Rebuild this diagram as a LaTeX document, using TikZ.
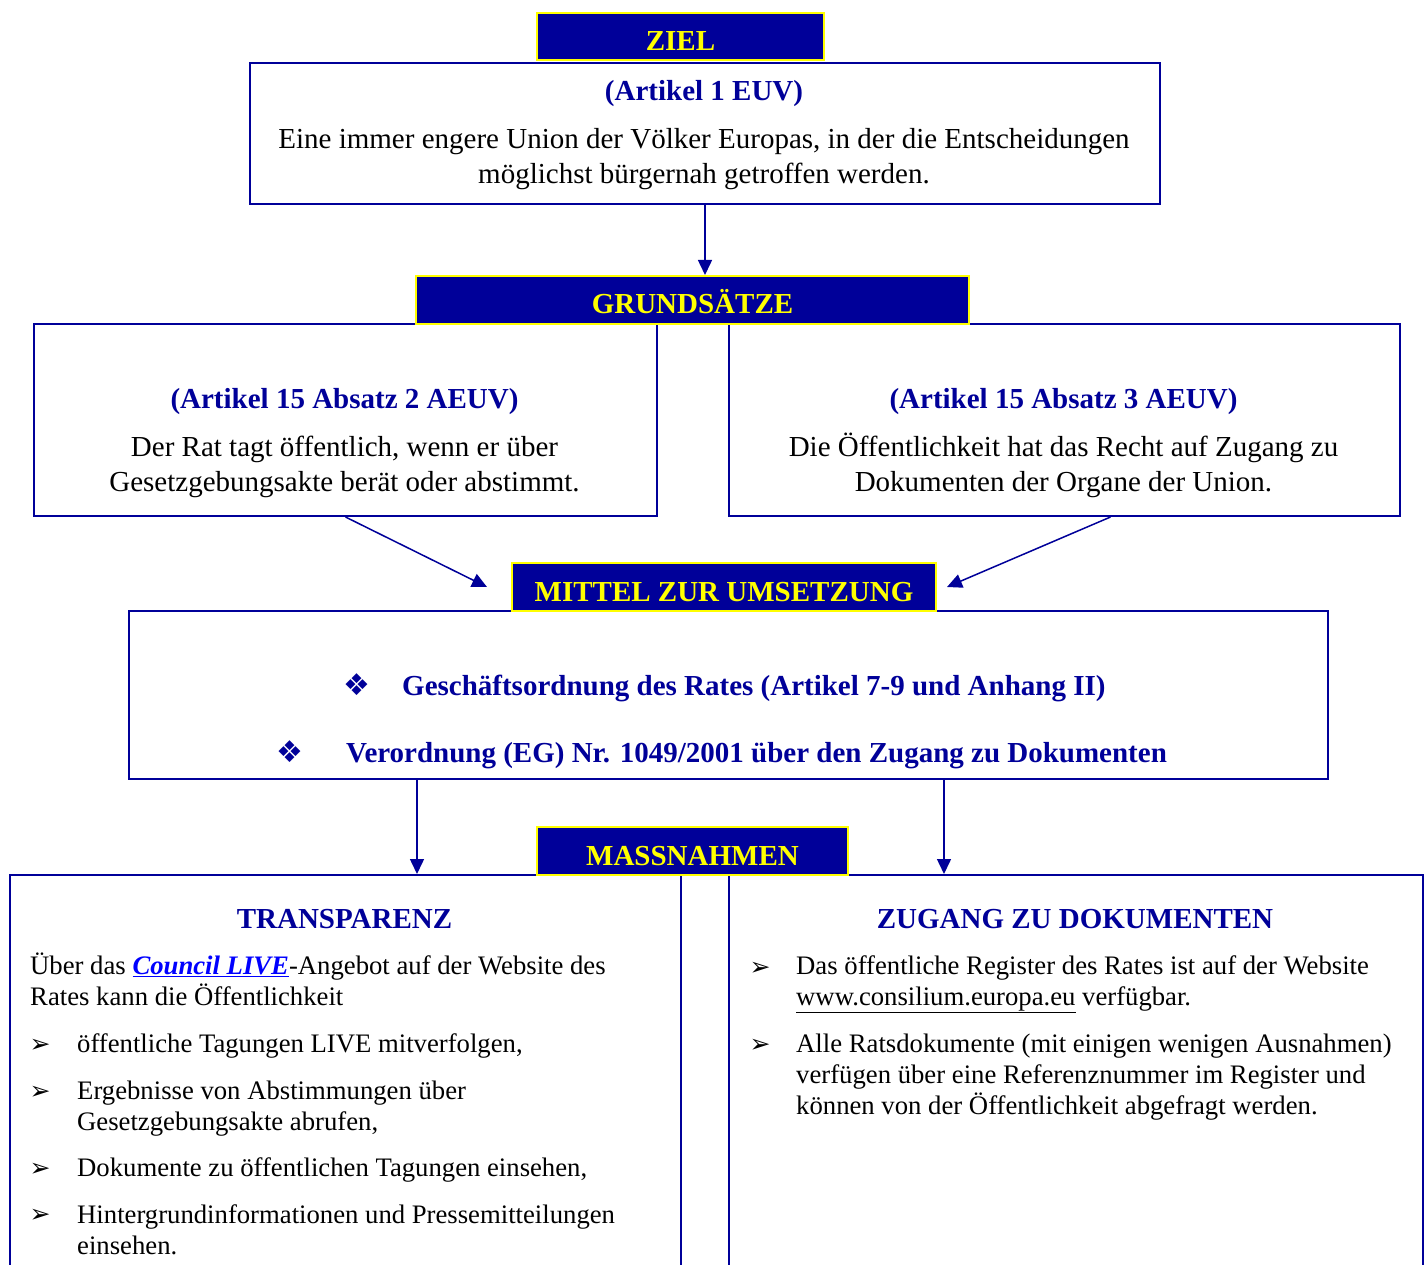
\documentclass[tikz,border=0pt]{standalone}
\usepackage{fontspec}
\setmainfont{Liberation Serif}
\newfontfamily\dingfont{DejaVu Sans}
\usetikzlibrary{arrows.meta}
\definecolor{eublue}{RGB}{0,0,153}
\definecolor{euyellow}{RGB}{255,255,0}
\definecolor{linkblue}{RGB}{0,0,255}

\tikzset{
  header/.style={fill=eublue, draw=euyellow, line width=2pt, text=euyellow, font=\fontsize{29}{33}\selectfont\bfseries, inner sep=0pt, text height=28pt, text depth=0pt, anchor=north west},
  frame/.style={draw=eublue, line width=2pt, inner sep=0pt, anchor=north west},
  conn/.style={draw=eublue, line width=1.5pt, -{Triangle[length=15pt,width=14pt]}},
  title/.style={text=eublue, font=\fontsize{29}{35}\selectfont\bfseries, anchor=base, inner sep=0pt},
  body/.style={font=\fontsize{29}{35}\selectfont, align=center, anchor=base, inner sep=0pt},
  small/.style={font=\fontsize{26.7}{31}\selectfont, align=left, anchor=base west, inner sep=0pt},
  bullet/.style={font=\dingfont\fontsize{25}{27}\selectfont, anchor=base, inner sep=0pt},
  diam/.style={text=eublue, font=\dingfont\fontsize{30}{32}\selectfont, anchor=base, inner sep=0pt},
  means/.style={text=eublue, font=\fontsize{29}{35}\selectfont\bfseries, anchor=base west, inner sep=0pt},
}

\begin{document}
\begin{tikzpicture}[x=1pt,y=1pt,yscale=-1,xscale=1]
    \path[fill=white, use as bounding box] (0,0) rectangle (1427,1265);

    % Frames
    \node[frame, minimum width=910pt, minimum height=141pt] (zbox) at (249,62) {};
    \node[frame, minimum width=623pt, minimum height=192pt] (lbox) at (33,323) {};
    \node[frame, minimum width=671pt, minimum height=192pt] (rbox) at (728,323) {};
    \node[frame, minimum width=1199pt, minimum height=168pt] (mbox) at (128,610) {};
    \node[frame, minimum width=671pt, minimum height=430pt] (tbox) at (9,874) {};
    \node[frame, minimum width=694pt, minimum height=430pt] (dbox) at (728,874) {};

    % Header boxes
    \node[header, minimum width=287pt, minimum height=47pt] (ziel) at (536,12) {ZIEL};
    \node[header, minimum width=553pt, minimum height=48pt] (grund) at (415,275) {GRUNDSÄTZE};
    \node[header, minimum width=424pt, minimum height=48pt] (mittel) at (511,562) {MITTEL ZUR UMSETZUNG};
    \node[header, minimum width=311pt, minimum height=48pt] (mass) at (536,826) {MASSNAHMEN};

    % Text Node
    \node[title] (ztitle) at (704,101) {(Artikel 1 EUV)};
    % Text Node
    \node[body] (ztext) at (704,184) {Eine immer engere Union der Völker Europas, in der die Entscheidungen\\möglichst bürgernah getroffen werden.};

    % Text Node
    \node[title] (ltitle) at (344.5,408) {(Artikel 15 Absatz 2 AEUV)};
    % Text Node
    \node[body] (ltext) at (344.5,491) {Der Rat tagt öffentlich, wenn er über\\Gesetzgebungsakte berät oder abstimmt.};
    % Text Node
    \node[title] (rtitle) at (1063.5,408) {(Artikel 15 Absatz 3 AEUV)};
    % Text Node
    \node[body] (rtext) at (1063.5,491) {Die Öffentlichkeit hat das Recht auf Zugang zu\\Dokumenten der Organe der Union.};

    % Text Node
    \node[diam] (d1) at (357,695) {❖};
    \node[means] (m1) at (402,695) {Geschäftsordnung des Rates (Artikel 7-9 und Anhang II)};
    % Text Node
    \node[diam] (d2) at (290,762) {❖};
    \node[means] (m2) at (346,762) {Verordnung (EG) Nr. 1049/2001 über den Zugang zu Dokumenten};

    % Text Node
    \node[title] (ttitle) at (344.5,928) {TRANSPARENZ};
    \node[small] (tintro) at (30,1005) {Über das \textcolor{linkblue}{\bfseries\itshape\underline{Council LIVE}}-Angebot auf der Website des\\Rates kann die Öffentlichkeit};
    \node[bullet] (b1) at (40,1052) {➢};
    \node[small] (t1) at (77,1052) {öffentliche Tagungen LIVE mitverfolgen,};
    \node[bullet] (b2) at (40,1099) {➢};
    \node[small] (t2) at (77,1130) {Ergebnisse von Abstimmungen über\\Gesetzgebungsakte abrufen,};
    \node[bullet] (b3) at (40,1176) {➢};
    \node[small] (t3) at (77,1176) {Dokumente zu öffentlichen Tagungen einsehen,};
    \node[bullet] (b4) at (40,1222) {➢};
    \node[small] (t4) at (77,1254) {Hintergrundinformationen und Pressemitteilungen\\einsehen.};

    % Text Node
    \node[title] (dtitle) at (1075,928) {ZUGANG ZU DOKUMENTEN};
    \node[bullet] (b5) at (760,975) {➢};
    \node[small] (t5) at (796,1005) {Das öffentliche Register des Rates ist auf der Website\\\underline{www.consilium.europa.eu} verfügbar.};
    \node[bullet] (b6) at (760,1052) {➢};
    \node[small] (t6) at (796,1114) {Alle Ratsdokumente (mit einigen wenigen Ausnahmen)\\verfügen über eine Referenznummer im Register und\\können von der Öffentlichkeit abgefragt werden.};

    % Connection
    \draw[conn] (zbox.south) -- (zbox.south |- grund.north);
    % Connection
    \draw[conn] (lbox.south) -- ([xshift=-24pt]mittel.west);
    % Connection
    \draw[conn] ([xshift=46pt]rbox.south) -- ([xshift=10pt]mittel.east);
    % Connection
    \coordinate (mleft) at ([xshift=-311.5pt]mbox.south);
    \coordinate (mright) at ([xshift=215.5pt]mbox.south);
    \draw[conn] (mleft) -- (mleft |- tbox.north);
    \draw[conn] (mright) -- (mright |- dbox.north);
\end{tikzpicture}
\end{document}
